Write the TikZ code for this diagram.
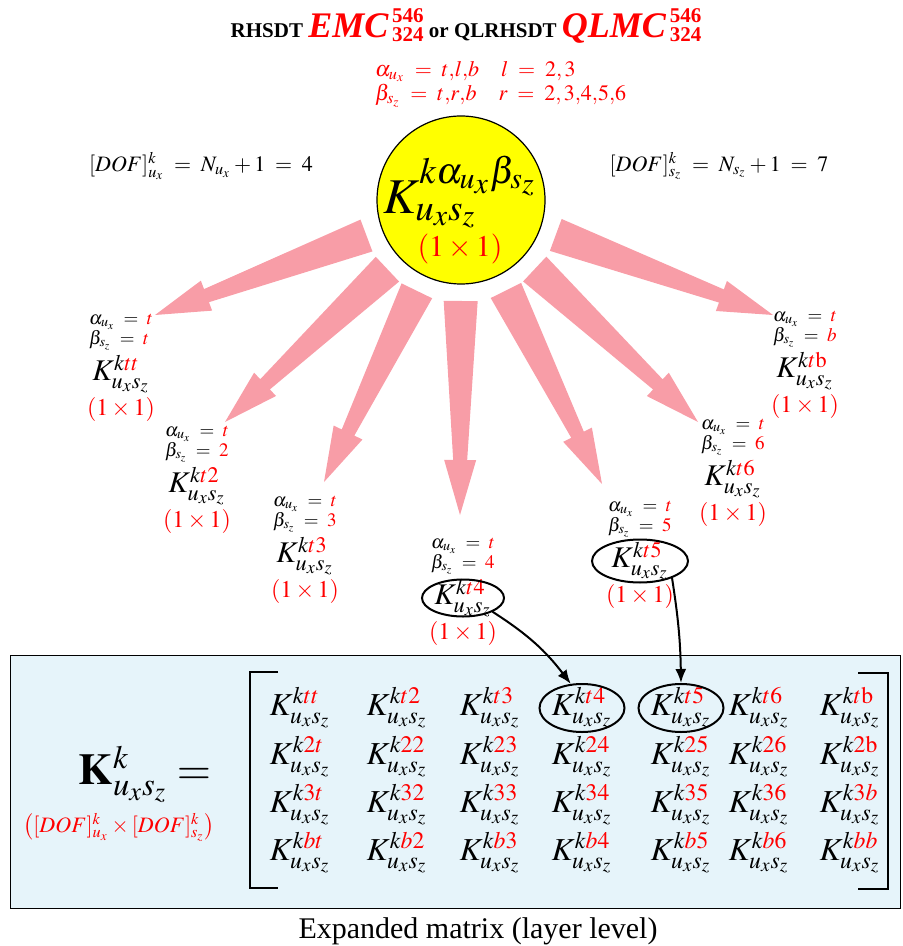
\documentclass[tikz,border=0pt]{standalone}
\usepackage{amsmath}
\usepackage{mathptmx}
\usepackage{fontspec}
\setmainfont{Liberation Serif}
\usetikzlibrary{positioning,arrows.meta,shapes.geometric,calc}
\definecolor{ArrowPink}{RGB}{248,157,167}
\definecolor{HubYellow}{RGB}{255,255,0}
\definecolor{PanelBlue}{RGB}{230,244,250}
\definecolor{LabelRed}{RGB}{255,0,0}
\newcommand{\modelname}[1]{{\fontsize{18}{18}\selectfont\itshape #1\/}\,\raisebox{2.3pt}{\fontsize{10.5}{8.5}\selectfont\begin{tabular}[c]{@{}l@{}}546\\324\end{tabular}}}
% wide tapered arrow from a node towards a tip coordinate
\newcommand{\fatarrow}[2]{%
  \coordinate (fa-b) at ($(#1.center)!50.5pt!(#2)$);
  \coordinate (fa-h) at ($(#2)!27.5pt!(#1.center)$);
  \fill[ArrowPink] ($(fa-b)!8.5pt!90:(#2)$) -- ($(fa-h)!3.5pt!90:(#2)$) -- ($(fa-h)!8pt!90:(#2)$)
    -- (#2) -- ($(fa-h)!8pt!-90:(#2)$) -- ($(fa-h)!3.5pt!-90:(#2)$) -- ($(fa-b)!8.5pt!-90:(#2)$) -- cycle;}

\begin{document}
\begin{tikzpicture}[x=0.5pt,y=-0.5pt,
    sel/.style={font=\fontsize{9.5}{10}\selectfont,align=left,inner sep=1pt},
    kent/.style={font=\fontsize{15}{17}\selectfont,inner sep=1pt},
    mkent/.style={font=\fontsize{16}{18}\selectfont,inner sep=1pt},
    dimlbl/.style={font=\fontsize{12}{14}\selectfont,text=LabelRed,inner sep=1pt},
    ring/.style={draw,ellipse,line width=1pt,inner sep=0pt},
    link/.style={-{Latex[length=7pt,width=5.5pt]},line width=1pt}]
  \useasboundingbox (0,0) rectangle (902,946);

  % header
  \node[font=\fontsize{10.5}{12}\selectfont\bfseries] (title) at (466,28)
    {RHSDT \textcolor{LabelRed}{\modelname{EMC}} or QLRHSDT \textcolor{LabelRed}{\modelname{QLMC}}};
  \node[anchor=west,align=left,text=LabelRed,font=\fontsize{11}{10.5}\selectfont] (ranges) at (368,84)
    {$\alpha_{u_x} \;=\; t{,}l{,}b\quad l \;=\; 2, 3$\\$\beta_{s_z} \;=\; t{,}r{,}b\quad r \;=\; 2, 3{,}4{,}5{,}6$};
  \node[font=\fontsize{11}{13}\selectfont] (dofu) at (201,166) {$[DOF]^k_{u_x} \;=\; N_{u_x} + 1 \;=\; 4$};
  \node[font=\fontsize{11}{13}\selectfont] (dofs) at (719,166) {$[DOF]^k_{s_z} \;=\; N_{s_z} + 1 \;=\; 7$};

  % hub
  \node[circle,draw,fill=HubYellow,line width=0.6pt,minimum size=84pt,inner sep=0pt] (hub) at (461,200) {};
  \node[font=\fontsize{25}{28}\selectfont,inner sep=0pt] (hubK) at (460,192) {$K^{k\alpha_{u_x}\beta_{s_z}}_{u_xs_z}$};
  \node[font=\fontsize{15}{17}\selectfont,text=LabelRed,inner sep=0pt] (hubdim) at (460,249) {$(1\times 1)$};

  % single terms
  \node[kent] (ktt) at (121,374) {$K^{k\textcolor{LabelRed}{tt}}_{u_xs_z}$};
  \node[sel,above=0pt of ktt] (abtt) {$\alpha_{u_x} \;=\; \textcolor{LabelRed}{t}$\\$\beta_{s_z} \;=\; \textcolor{LabelRed}{t}$};
  \node[dimlbl,below=0pt of ktt] (dtt) {$(1\times 1)$};

  \node[kent] (kt2) at (197,486) {$K^{k\textcolor{LabelRed}{t2}}_{u_xs_z}$};
  \node[sel,above=0pt of kt2] (abt2) {$\alpha_{u_x} \;=\; \textcolor{LabelRed}{t}$\\$\beta_{s_z} \;=\; \textcolor{LabelRed}{2}$};
  \node[dimlbl,below=0pt of kt2] (dt2) {$(1\times 1)$};

  \node[kent] (kt3) at (305,556) {$K^{k\textcolor{LabelRed}{t3}}_{u_xs_z}$};
  \node[sel,above=0pt of kt3] (abt3) {$\alpha_{u_x} \;=\; \textcolor{LabelRed}{t}$\\$\beta_{s_z} \;=\; \textcolor{LabelRed}{3}$};
  \node[dimlbl,below=0pt of kt3] (dt3) {$(1\times 1)$};

  \node[kent] (kt4) at (463,598) {$K^{k\textcolor{LabelRed}{t4}}_{u_xs_z}$};
  \node[sel,above=0pt of kt4] (abt4) {$\alpha_{u_x} \;=\; \textcolor{LabelRed}{t}$\\$\beta_{s_z} \;=\; \textcolor{LabelRed}{4}$};
  \node[dimlbl,below=0pt of kt4] (dt4) {$(1\times 1)$};
  \node[ring,minimum width=41pt,minimum height=18.5pt] (ek4) at (kt4) {};

  \node[kent] (kt5) at (640,561) {$K^{k\textcolor{LabelRed}{t5}}_{u_xs_z}$};
  \node[sel,above=0pt of kt5] (abt5) {$\alpha_{u_x} \;=\; \textcolor{LabelRed}{t}$\\$\beta_{s_z} \;=\; \textcolor{LabelRed}{5}$};
  \node[dimlbl,below=0pt of kt5] (dt5) {$(1\times 1)$};
  \node[ring,minimum width=48pt,minimum height=21.5pt] (ek5) at (kt5) {};

  \node[kent] (kt6) at (733,479) {$K^{k\textcolor{LabelRed}{t6}}_{u_xs_z}$};
  \node[sel,above=0pt of kt6] (abt6) {$\alpha_{u_x} \;=\; \textcolor{LabelRed}{t}$\\$\beta_{s_z} \;=\; \textcolor{LabelRed}{6}$};
  \node[dimlbl,below=0pt of kt6] (dt6) {$(1\times 1)$};

  \node[kent] (ktb) at (805,371) {$K^{k\textcolor{LabelRed}{t\mathrm{b}}}_{u_xs_z}$};
  \node[sel,above=0pt of ktb] (abtb) {$\alpha_{u_x} \;=\; \textcolor{LabelRed}{t}$\\$\beta_{s_z} \;=\; \textcolor{LabelRed}{b}$};
  \node[dimlbl,below=0pt of ktb] (dtb) {$(1\times 1)$};

  % fat arrows
  \coordinate (tip-tt) at (155,315);
  \coordinate (tip-t2) at (225,422);
  \coordinate (tip-t3) at (324,482);
  \coordinate (tip-t4) at (460,515);
  \coordinate (tip-t5) at (602,484);
  \coordinate (tip-t6) at (698,422);
  \coordinate (tip-tb) at (773,315);
  \foreach \t in {tt,t2,t3,t4,t5,t6,tb}
    \fatarrow{hub}{tip-\t};

  % expanded matrix
  \draw[fill=PanelBlue,line width=0.5pt] (10,655) rectangle (900,908);
  \draw[line width=1.4pt] (278,672) -- (250,672) -- (250,888) -- (278,888);
  \draw[line width=1.4pt] (858,673) -- (888,673) -- (888,889) -- (858,889);
  \node[font=\fontsize{22}{24}\selectfont,inner sep=0pt] (kbig) at (145,774) {$\mathbf{K}^{k}_{u_xs_z}=$};
  \node[font=\fontsize{11}{13}\selectfont,text=LabelRed,inner sep=0pt] (kdim) at (119,827)
    {$\bigl([DOF]^k_{u_x}\times[DOF]^k_{s_z}\bigr)$};
  \foreach \x/\s [count=\c] in {300/tt,397/t2,490/t3,582/t4,681/t5,759/t6,850/t\mathrm{b}}
    \node[mkent] (m1\c) at (\x,708) {$K^{k\textcolor{LabelRed}{\s}}_{u_xs_z}$};
  \foreach \x/\s [count=\c] in {300/2t,397/22,490/23,582/24,681/25,759/26,850/2\mathrm{b}}
    \node[mkent] (m2\c) at (\x,757) {$K^{k\textcolor{LabelRed}{\s}}_{u_xs_z}$};
  \foreach \x/\s [count=\c] in {300/3t,397/32,490/33,582/34,681/35,759/36,850/3b}
    \node[mkent] (m3\c) at (\x,805) {$K^{k\textcolor{LabelRed}{\s}}_{u_xs_z}$};
  \foreach \x/\s [count=\c] in {300/bt,397/b2,490/b3,582/b4,681/b5,759/b6,850/bb}
    \node[mkent] (m4\c) at (\x,853) {$K^{k\textcolor{LabelRed}{\s}}_{u_xs_z}$};
  \node[ring,minimum width=42.5pt,minimum height=24pt] (me4) at (m14) {};
  \node[ring,minimum width=42.5pt,minimum height=24pt] (me5) at (m15) {};
  \node[font=\fontsize{15}{17}\selectfont] (caption) at (478,931) {Expanded matrix (layer level)};

  % links into the matrix
  \draw[link] (ek4.-25) to[bend left=10] (me4.115);
  \draw[link] (ek5.-28) to[bend left=4] (me5.north);
\end{tikzpicture}
\end{document}
